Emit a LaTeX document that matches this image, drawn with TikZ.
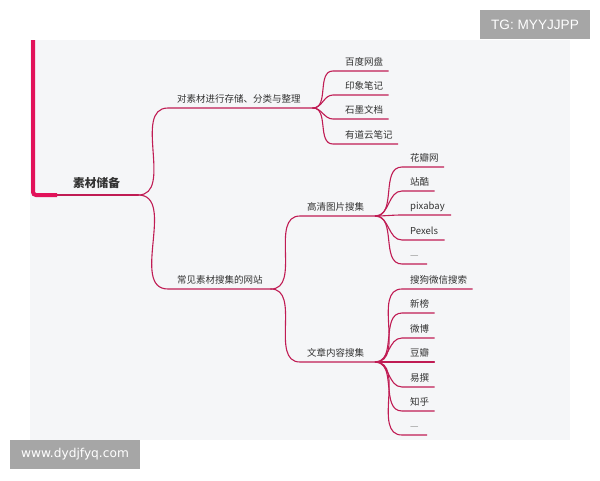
\documentclass[tikz,border=0pt]{standalone}
\usepackage{fontspec}
\newfontfamily\cjk{Noto Sans CJK SC}
\newfontfamily\wmfont{Liberation Sans}
\newfontfamily\urlfont{DejaVu Sans}
\definecolor{branch}{RGB}{192,28,84}
\definecolor{barred}{RGB}{226,18,90}
\definecolor{panel}{RGB}{245,246,248}
\definecolor{wmgray}{RGB}{166,166,166}
\definecolor{ink}{RGB}{51,51,51}

\tikzset{
	topic/.style 2 args={anchor=south west, inner xsep=0pt, inner ysep=0pt, text depth=5pt,
		font=\cjk\fontsize{9.5}{11}\selectfont, text=ink,
		execute at begin node={\hspace*{#1}}, execute at end node={\hspace*{#2}}},
	more/.style={text=ink!55},
	link/.style={draw=branch, line width=1.1pt, line cap=round},
	wm/.style={fill=wmgray, text=white, inner sep=0pt}
}

\begin{document}
\begin{tikzpicture}[x=1pt, y=-1pt]
	\useasboundingbox (0,0) rectangle (600,480);
	\fill[panel] (30,40) rectangle (570,440);
	\coordinate (top) at (33,40);
	% root and main branches
	\node[topic={40pt}{18pt}, text depth=7.5pt, font=\cjk\bfseries\fontsize{11.7}{13}\selectfont] (root) at (33,195) {素材储备};
	\node[topic={9pt}{12pt}] (store) at (168,108) {对素材进行存储、分类与整理};
	\node[topic={9pt}{8pt}] (sites) at (168,289) {常见素材搜集的网站};
	\node[topic={7pt}{11pt}] (pics) at (300,216) {高清图片搜集};
	\node[topic={7pt}{11pt}] (texts) at (300,362) {文章内容搜集};
	% leaves
	\node[topic={12pt}{5pt}] (bd) at (333,71) {百度网盘};
	\node[topic={12pt}{5pt}] (yx) at (333,95) {印象笔记};
	\node[topic={12pt}{5pt}] (sm) at (333,119) {石墨文档};
	\node[topic={12pt}{5pt}] (yd) at (333,144) {有道云笔记};
	\node[topic={8pt}{5pt}] (hb) at (402,167) {花瓣网};
	\node[topic={8pt}{5pt}] (zk) at (402,191) {站酷};
	\node[topic={8pt}{6pt}] (px) at (402,215) {pixabay};
	\node[topic={8pt}{6pt}] (pe) at (402,240) {Pexels};
	\node[topic={8pt}{8pt}, more] (pm) at (402,264) {—};
	\node[topic={8pt}{5pt}] (sg) at (402,289) {搜狗微信搜索};
	\node[topic={8pt}{5pt}] (xb) at (402,313) {新榜};
	\node[topic={8pt}{5pt}] (wb) at (402,338) {微博};
	\node[topic={8pt}{5pt}] (db) at (402,362) {豆瓣};
	\node[topic={8pt}{5pt}] (yz) at (402,387) {易撰};
	\node[topic={8pt}{5pt}] (zh) at (402,411) {知乎};
	\node[topic={8pt}{8pt}, more] (tm) at (402,435) {—};
	% connectors
	\draw[link] (root.south west) -- (root.south east);
	\foreach \n in {store,sites}
		\draw[link] (root.south east) to[out=0,in=180] (\n.south west) -- (\n.south east);
	\foreach \n in {pics,texts}
		\draw[link] (sites.south east) to[out=0,in=180] (\n.south west) -- (\n.south east);
	\foreach \n in {bd,yx,sm,yd}
		\draw[link] (store.south east) to[out=0,in=180] (\n.south west) -- (\n.south east);
	\foreach \n in {hb,zk,px,pe,pm}
		\draw[link] (pics.south east) to[out=0,in=180] (\n.south west) -- (\n.south east);
	\foreach \n in {sg,xb,wb,db,yz,zh,tm}
		\draw[link] (texts.south east) to[out=0,in=180] (\n.south west) -- (\n.south east);
	\draw[draw=barred, line width=4pt, rounded corners=3pt] (top) |- ([xshift=24pt]root.south west);
	% watermarks
	\node[wm, minimum width=110pt, minimum height=29pt, font=\wmfont\fontsize{13.6}{15}\selectfont] (tg) at (535,24.5) {TG: MYYJJPP};
	\node[wm, minimum width=130pt, minimum height=29pt, font=\urlfont\fontsize{12.2}{14}\selectfont] (site) at (75,454.5) {www.dydjfyq.com};
\end{tikzpicture}
\end{document}
